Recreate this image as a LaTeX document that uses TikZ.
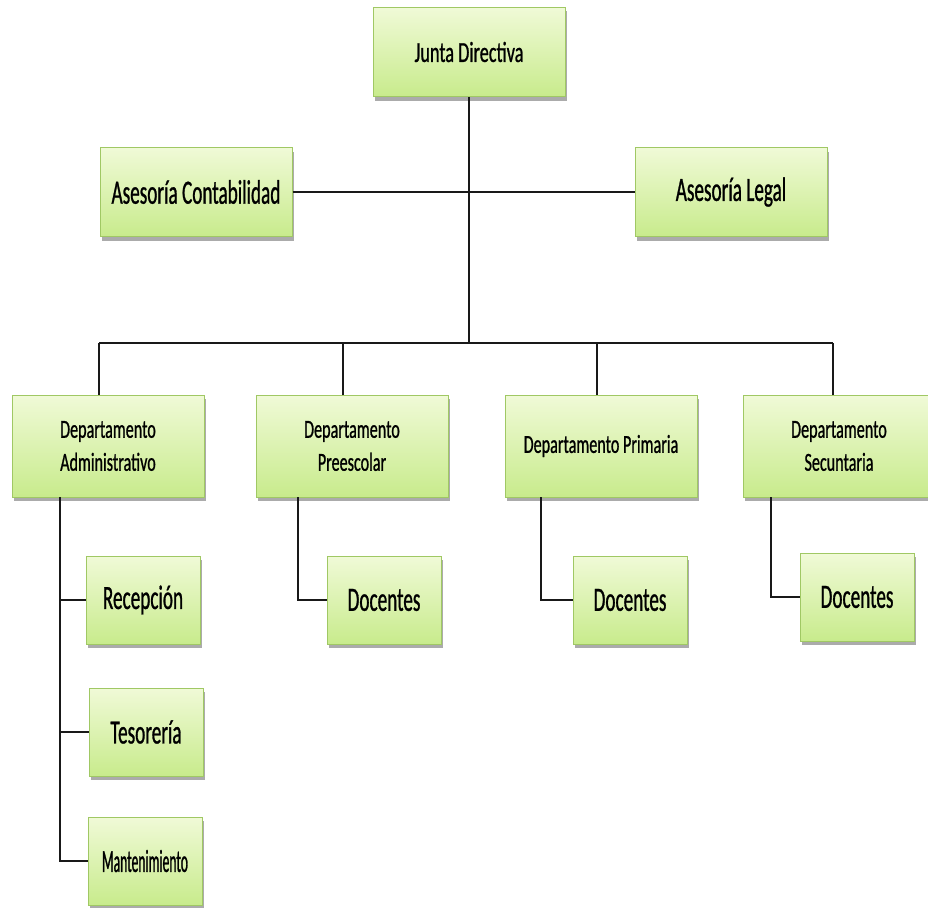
\documentclass[tikz,border=0pt]{standalone}
\usepackage{fontspec}
\setmainfont{Carlito}
\newfontfamily\condA[FakeStretch=0.63,FakeBold=0.8]{Carlito}
\newfontfamily\condD[FakeStretch=0.62,FakeBold=0.8]{Carlito}
\newfontfamily\condB[FakeStretch=0.565,FakeBold=0.8]{Carlito}
\newfontfamily\condC[FakeStretch=0.425,FakeBold=0.8]{Carlito}
\usetikzlibrary{shadows}

\definecolor{boxtop}{RGB}{240,250,215}
\definecolor{boxbot}{RGB}{200,235,140}
\definecolor{boxline}{RGB}{160,200,100}

\begin{document}
\begin{tikzpicture}[x=1pt,y=-1pt,
    box/.style={draw=boxline,line width=1pt,top color=boxtop,bottom color=boxbot,
        inner sep=0pt,align=center,text=black,
        drop shadow={shadow xshift=2pt,shadow yshift=-4pt,fill=black!55,opacity=0.6}},
    bigbox/.style={box,minimum width=192,minimum height=89},
    deptbox/.style={box,minimum width=192,minimum height=102,
        font=\condD\fontsize{26}{33}\selectfont},
    smallbox/.style={box,minimum width=114,minimum height=88,
        font=\condB\fontsize{34}{38}\selectfont},
    link/.style={line width=1.6pt,black!90}]
    \useasboundingbox (0,0) rectangle (928,907);

    % Top level
    \node [bigbox,font=\condA\fontsize{29}{32}\selectfont] (junta) at (469,52) {Junta Directiva};
    \node [bigbox,font=\condB\fontsize{34}{38}\selectfont] (contab) at (196,192) {Asesoría Contabilidad};
    \node [bigbox,font=\condB\fontsize{34}{38}\selectfont] (legal) at (731,192) {Asesoría Legal};

    % Departments
    \node [deptbox] (admin) at (108,446) {Departamento\\Administrativo};
    \node [deptbox] (preesc) at (352,446) {Departamento\\Preescolar};
    \node [deptbox] (prim) at (601,446) {Departamento Primaria};
    \node [deptbox] (secun) at (839,446) {Departamento\\Secuntaria};

    % Administrative units
    \node [smallbox] (recep) at (143,600) {Recepción};
    \node [smallbox] (tesor) at (146,732) {Tesorería};
    \node [smallbox,font=\condC\fontsize{32}{34}\selectfont] (mant) at (145,861) {Mantenimiento};

    % Teachers
    \node [smallbox] (docpre) at (384,600) {Docentes};
    \node [smallbox] (docpri) at (630,600) {Docentes};
    \node [smallbox] (docsec) at (857,597) {Docentes};

    % Bus and branch points
    \coordinate (busL) at (99,343);
    \coordinate (busR) at (833,343);
    \coordinate (dropP) at (343,343);
    \coordinate (dropQ) at (597,343);
    \coordinate (admV) at (60,497);
    \coordinate (preV) at (298,497);
    \coordinate (priV) at (541,497);
    \coordinate (secV) at (771,497);

    % Connectors
    \draw [link] (junta.south) -- (junta.south |- busL);
    \draw [link] (contab.east) -- (legal.west);
    \draw [link] (busL) -- (busR);
    \draw [link] (busL) -- (busL |- admin.north);
    \draw [link] (dropP) -- (dropP |- preesc.north);
    \draw [link] (dropQ) -- (dropQ |- prim.north);
    \draw [link] (busR) -- (busR |- secun.north);

    \draw [link] (admV) |- (mant.west);
    \draw [link] (admV |- recep.west) -- (recep.west);
    \draw [link] (admV |- tesor.west) -- (tesor.west);
    \draw [link] (preV) |- (docpre.west);
    \draw [link] (priV) |- (docpri.west);
    \draw [link] (secV) |- (docsec.west);
\end{tikzpicture}
\end{document}
